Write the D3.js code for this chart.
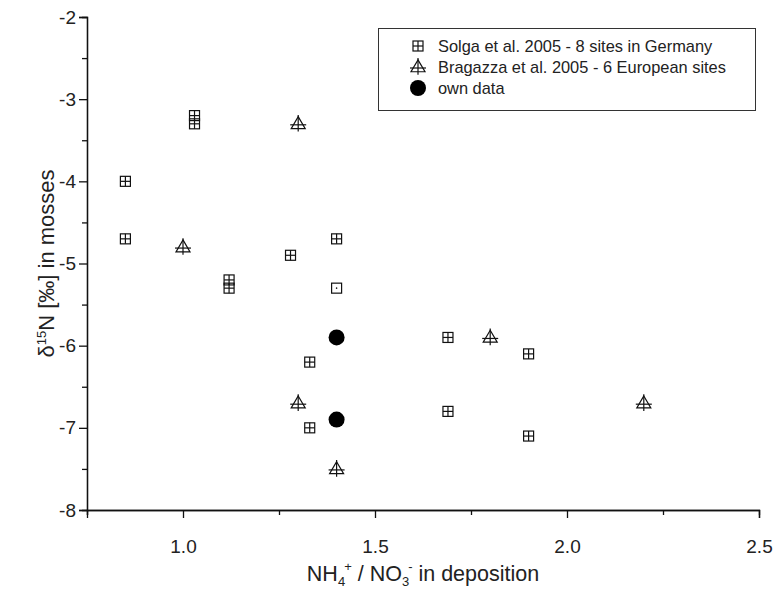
<!DOCTYPE html>
<html>
<head>
<meta charset="utf-8">
<script src="https://cdn.jsdelivr.net/npm/d3@7"></script>
<style>
  html, body { margin: 0; padding: 0; background: #fff; }
  svg { display: block; font-family: "Liberation Sans", Arial, sans-serif; }
</style>
</head>
<body>
<svg id="chart" width="773" height="592"></svg>
<script>
// NH4+/NO3- ratio in deposition vs. δ15N in mosses
const solgaX = [0.85, 0.85, 1.03, 1.03, 1.12, 1.12, 1.28, 1.40, 1.33, 1.33, 1.69, 1.69, 1.90, 1.90];
const solgaY = [-4.0, -4.7, -3.2, -3.3, -5.2, -5.3, -4.9, -4.7, -6.2, -7.0, -5.9, -6.8, -6.1, -7.1];
// one Solga site drawn as an open square
const solgaOpenX = [1.40];
const solgaOpenY = [-5.3];
const bragazzaX = [1.0, 1.3, 1.3, 1.4, 1.8, 2.2];
const bragazzaY = [-4.8, -3.3, -6.7, -7.5, -5.9, -6.7];
const ownX = [1.4, 1.4];
const ownY = [-5.9, -6.9];

const xTicks = [1.0, 1.5, 2.0, 2.5];
const xMinorTicks = [0.75, 1.25, 1.75, 2.25];
const yTicks = [-2, -3, -4, -5, -6, -7, -8];
const yMinorTicks = [-2.5, -3.5, -4.5, -5.5, -6.5, -7.5];
const legendLabels = [
  "Solga et al. 2005 - 8 sites in Germany",
  "Bragazza et al. 2005 - 6 European sites",
  "own data"
];

const svg = d3.select("#chart");
const plotLeft = 87, plotRight = 759, plotTop = 17, plotBottom = 510;

const x = d3.scaleLinear().domain([0.75, 2.5]).range([plotLeft, plotRight]);
const y = d3.scaleLinear().domain([-8, -2]).range([plotBottom, plotTop]);

const stroke = "#111";
const font = "'Liberation Sans', Arial, sans-serif";

// Axes
const xAxis = d3.axisBottom(x).tickValues(xTicks).tickFormat(d3.format(".1f")).tickSize(8).tickPadding(22);
const xMinor = d3.axisBottom(x).tickValues(xMinorTicks).tickFormat("").tickSize(5);
const yAxis = d3.axisLeft(y).tickValues(yTicks).tickFormat(d => String(d)).tickSize(8).tickPadding(3);
const yMinor = d3.axisLeft(y).tickValues(yMinorTicks).tickFormat("").tickSize(5);

function styleAxis(g) {
  g.attr("font-family", font).attr("font-size", 19);
  g.select(".domain").attr("stroke", stroke).attr("stroke-width", 1.3);
  g.selectAll(".tick line").attr("stroke", stroke).attr("stroke-width", 1.3);
  g.selectAll(".tick text").attr("fill", "#222");
}

svg.append("g").attr("transform", `translate(0,${plotBottom})`).call(xMinor).call(styleAxis);
svg.append("g").attr("transform", `translate(0,${plotBottom})`).call(xAxis).call(styleAxis);
svg.append("g").attr("transform", `translate(${plotLeft},0)`).call(yMinor).call(styleAxis);
svg.append("g").attr("transform", `translate(${plotLeft},0)`).call(yAxis).call(styleAxis);

// Axis titles
const xt = svg.append("text").attr("x", 423).attr("y", 581).attr("text-anchor", "middle")
  .attr("font-family", font).attr("font-size", 21.5).attr("fill", "#222");
xt.append("tspan").text("NH");
xt.append("tspan").text("4").attr("dy", 5).attr("font-size", 13);
xt.append("tspan").text("+").attr("dx", -1).attr("dy", -15).attr("font-size", 13);
xt.append("tspan").text(" / NO").attr("dy", 10);
xt.append("tspan").text("3").attr("dy", 5).attr("font-size", 13);
xt.append("tspan").text("-").attr("dx", -1).attr("dy", -15).attr("font-size", 13);
xt.append("tspan").text(" in deposition").attr("dy", 10);

const yt = svg.append("text").attr("transform", `translate(54,${y(-5)}) rotate(-90)`)
  .attr("text-anchor", "middle").attr("font-family", font).attr("font-size", 22).attr("fill", "#222");
yt.append("tspan").text("δ");
yt.append("tspan").text("15").attr("dy", -8).attr("font-size", 13);
yt.append("tspan").text("N [‰] in mosses").attr("dy", 8);

// Marker drawers
function squarePlus(g, cx, cy, s) {
  g.append("rect").attr("x", cx - s / 2).attr("y", cy - s / 2).attr("width", s).attr("height", s)
    .attr("fill", "none").attr("stroke", stroke).attr("stroke-width", 1.2);
  g.append("line").attr("x1", cx - s / 2).attr("x2", cx + s / 2).attr("y1", cy).attr("y2", cy)
    .attr("stroke", stroke).attr("stroke-width", 1.2);
  g.append("line").attr("x1", cx).attr("x2", cx).attr("y1", cy - s / 2).attr("y2", cy + s / 2)
    .attr("stroke", stroke).attr("stroke-width", 1.2);
}
function squareOpen(g, cx, cy, s) {
  g.append("rect").attr("x", cx - s / 2).attr("y", cy - s / 2).attr("width", s).attr("height", s)
    .attr("fill", "none").attr("stroke", stroke).attr("stroke-width", 1.2);
  g.append("circle").attr("cx", cx).attr("cy", cy).attr("r", 0.8).attr("fill", stroke);
}
function trianglePlus(g, cx, cy, s) {
  const h = s * 0.85;
  g.append("path")
    .attr("d", `M${cx},${cy - h * 0.6} L${cx + s / 2},${cy + h * 0.4} L${cx - s / 2},${cy + h * 0.4} Z`)
    .attr("fill", "none").attr("stroke", stroke).attr("stroke-width", 1.2);
  g.append("line").attr("x1", cx).attr("x2", cx).attr("y1", cy - h * 0.75).attr("y2", cy + h * 0.65)
    .attr("stroke", stroke).attr("stroke-width", 1.2);
  g.append("line").attr("x1", cx - s / 2 - 1).attr("x2", cx + s / 2 + 1).attr("y1", cy + 1).attr("y2", cy + 1)
    .attr("stroke", stroke).attr("stroke-width", 1.2);
}

const marks = svg.append("g");
solgaX.forEach((v, i) => squarePlus(marks, x(v), y(solgaY[i]), 10));
solgaOpenX.forEach((v, i) => squareOpen(marks, x(v), y(solgaOpenY[i]), 10));
bragazzaX.forEach((v, i) => trianglePlus(marks, x(v), y(bragazzaY[i]), 14));
marks.selectAll("circle.own").data(ownX).join("circle").attr("class", "own")
  .attr("cx", d => x(d)).attr("cy", (d, i) => y(ownY[i])).attr("r", 8).attr("fill", "#000");

// Legend
const lg = svg.append("g");
lg.append("rect").attr("x", 378.5).attr("y", 28.5).attr("width", 377).attr("height", 82)
  .attr("fill", "#fff").attr("stroke", "#333").attr("stroke-width", 1);
const rowY = [46, 67, 88];
squarePlus(lg, 418, rowY[0], 10);
trianglePlus(lg, 418, rowY[1], 14);
lg.append("circle").attr("cx", 418).attr("cy", rowY[2]).attr("r", 8).attr("fill", "#000");
legendLabels.forEach((t, i) => {
  lg.append("text").attr("x", 438).attr("y", rowY[i] + 6).text(t)
    .attr("font-family", font).attr("font-size", 16.4).attr("fill", "#222");
});
</script>
</body>
</html>
